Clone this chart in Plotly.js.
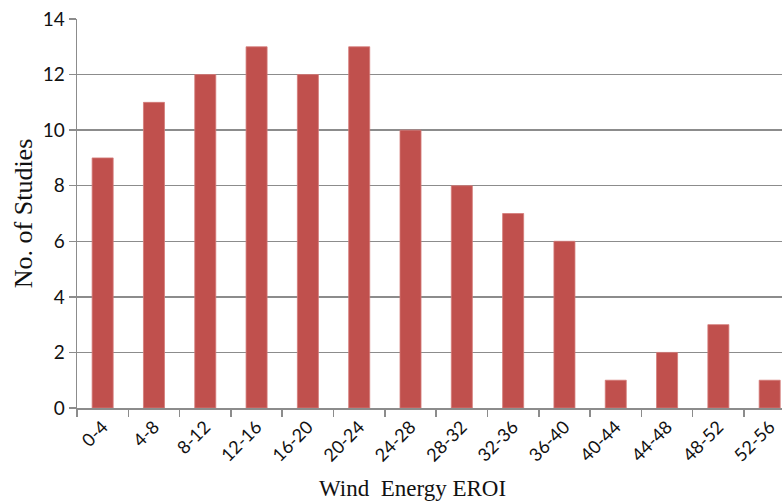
<!DOCTYPE html>
<html>
<head>
<meta charset="utf-8">
<script src="https://cdn.plot.ly/plotly-3.0.1.min.js"></script>
<style>html,body{margin:0;padding:0;background:#fff;}#chart{width:782px;height:504px;}</style>
</head>
<body>
<div id="chart"></div>
<script>
const categories = ["0-4","4-8","8-12","12-16","16-20","20-24","24-28","28-32","32-36","36-40","40-44","44-48","48-52","52-56"];
const studies = [9, 11, 12, 13, 12, 13, 10, 8, 7, 6, 1, 2, 3, 1];
const yTicks = [0, 2, 4, 6, 8, 10, 12, 14];
const xTitle = "Wind  Energy EROI";
const yTitle = "No. of Studies";

const trace = {
  type: "bar",
  x: categories,
  y: studies,
  marker: {color: "#C0504D", line: {color: "#D47B78", width: 0.8}},
  hoverinfo: "x+y"
};

const layout = {
  width: 782, height: 504,
  margin: {l: 77, r: 0, t: 19, b: 96},
  paper_bgcolor: "#ffffff", plot_bgcolor: "#ffffff",
  bargap: 0.59,
  showlegend: false,
  xaxis: {
    type: "category",
    range: [-0.5, 13.24],
    tickangle: -45,
    tickson: "boundaries",
    ticks: "outside", ticklen: 7, tickcolor: "#8c8c8c", tickwidth: 1.5,
    showline: true, linecolor: "#8c8c8c", linewidth: 1.5,
    showgrid: false, zeroline: false,
    tickfont: {family: "Lato, 'Open Sans', sans-serif", size: 18, color: "#111"}
  },
  yaxis: {
    range: [0, 14],
    tickvals: yTicks,
    ticks: "outside", ticklen: 7, tickcolor: "#8c8c8c", tickwidth: 1.5,
    showline: true, linecolor: "#8c8c8c", linewidth: 1.5,
    showgrid: true, gridcolor: "#8c8c8c", gridwidth: 1.5,
    zeroline: false,
    tickfont: {family: "Lato, 'Open Sans', sans-serif", size: 19, color: "#111"},
    title: {text: yTitle, font: {family: "'Liberation Serif', 'Times New Roman', serif", size: 26, color: "#111"}, standoff: 2}
  },
  annotations: [{
    text: xTitle, xref: "paper", yref: "paper",
    x: 0.476, y: -0.206, yanchor: "middle", xanchor: "center", showarrow: false,
    font: {family: "'Liberation Serif', 'Times New Roman', serif", size: 23, color: "#111"}
  }]
};

Plotly.newPlot("chart", [trace], layout, {displayModeBar: false, staticPlot: true});
</script>
</body>
</html>
